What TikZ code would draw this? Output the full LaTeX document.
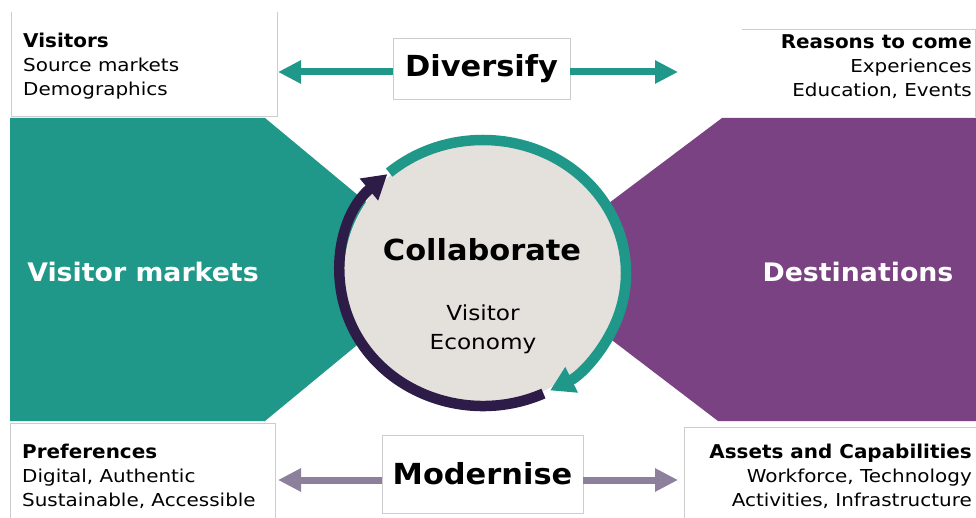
\documentclass[tikz,border=0pt]{standalone}
\usepackage{fontspec}
\setmainfont{DejaVu Sans}
\newfontfamily\regf[FakeStretch=1.12]{DejaVu Sans}
\newfontfamily\boldf[FakeStretch=1.05]{DejaVu Sans Bold}
\usetikzlibrary{arrows.meta}
\definecolor{tealc}{RGB}{32,152,137}
\definecolor{purpc}{RGB}{122,66,130}
\definecolor{dpurpc}{RGB}{45,27,72}
\definecolor{circc}{RGB}{228,225,221}
\definecolor{mgrayc}{RGB}{140,128,156}
\definecolor{boxc}{RGB}{205,205,205}
\newcommand{\hd}[1]{{\boldf\fontsize{19}{24}\selectfont #1}}
\begin{document}
\begin{tikzpicture}[x=1pt,y=-1pt,
  boxline/.style={draw=boxc, line width=0.8pt},
  small/.style={font=\regf\fontsize{17.8}{24}\selectfont, inner sep=0pt},
  big/.style={font=\boldf\fontsize{25.5}{28}\selectfont, text=white, inner sep=0pt},
  label/.style={draw=boxc, line width=0.8pt, fill=white, font=\boldf\fontsize{29}{32}\selectfont, inner sep=0pt},
  tealarrow/.style={draw=tealc, line width=7pt, -{Triangle[length=23pt,width=22pt]}},
  grayarrow/.style={draw=mgrayc, line width=7pt, -{Triangle[length=23pt,width=22pt]}},
]
\useasboundingbox (0,0) rectangle (976,518);
% side shapes
\fill[tealc] (10,118) -- (265,118) -- (448,270) -- (265,421) -- (10,421) -- cycle;
\fill[purpc] (976,118) -- (722,118) -- (520,270) -- (718,421) -- (976,421) -- cycle;
% corner boxes
\draw[boxline] (11,12) -- (11,116) -- (277,116) -- (277,12);
\draw[boxline] (742,29) -- (975,29) -- (975,117);
\draw[boxline] (10,518) -- (10,423) -- (275,423) -- (275,518);
\draw[boxline] (684,518) -- (684,427) -- (976,427);
% circle
\coordinate (c) at (483,273);
\fill[circc] (c) ellipse [x radius=139, y radius=131];
\draw[tealc, line width=10.5pt, -{Triangle[length=24pt,width=27pt]}]
  ([shift={(-131:143 and 133)}]c) arc[start angle=-131, end angle=62, x radius=143, y radius=133];
\draw[dpurpc, line width=10.5pt, -{Triangle[length=24pt,width=27pt]}]
  ([shift={(65:143 and 133)}]c) arc[start angle=65, end angle=228, x radius=143, y radius=133];
% centre text
\node[font=\boldf\fontsize{29}{32}\selectfont, inner sep=0pt] (collab) at (482,250) {Collaborate};
\node[font=\regf\fontsize{20.7}{29}\selectfont, inner sep=0pt, align=center] (ve) at (483,329) {Visitor\\Economy};
% side texts
\node[big] (vm) at (143,272) {Visitor markets};
\node[big] (dest) at (858,272) {Destinations};
% corner texts
\node[small, align=left, anchor=north west] (tl) at (23,33) {\hd{Visitors}\\Source markets\\Demographics};
\node[small, align=right, anchor=north east] (tr) at (972,34) {\hd{Reasons to come}\\Experiences\\Education, Events};
\node[small, align=left, anchor=north west] (bl) at (22,444) {\hd{Preferences}\\Digital, Authentic\\Sustainable, Accessible};
\node[small, align=right, anchor=north east] (br) at (972,444) {\hd{Assets and Capabilities}\\Workforce, Technology\\Activities, Infrastructure};
% labels and arrows
\node[label, minimum width=177pt, minimum height=61pt] (div) at (481.5,68.5) {Diversify};
\node[label, minimum width=201pt, minimum height=78pt] (mod) at (482.5,474) {Modernise};
\coordinate (dl) at (278,72);
\coordinate (dr) at (678,72);
\coordinate (ml) at (278,480);
\coordinate (mr) at (678,480);
\draw[tealarrow] (div.west |- dl) -- (dl);
\draw[tealarrow] (div.east |- dr) -- (dr);
\draw[grayarrow] (mod.west |- ml) -- (ml);
\draw[grayarrow] (mod.east |- mr) -- (mr);
\end{tikzpicture}
\end{document}
